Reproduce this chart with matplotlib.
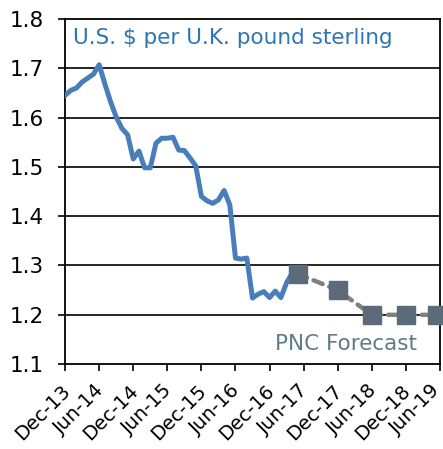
import matplotlib
matplotlib.use('Agg')
import matplotlib.pyplot as plt
import matplotlib.transforms as mtransforms

# monthly history, month index 0 = Dec-13 tick
hist_month = list(range(42))
hist_rate = [1.645, 1.655, 1.660, 1.672, 1.680, 1.688, 1.707, 1.668, 1.632, 1.601,
             1.578, 1.565, 1.516, 1.532, 1.498, 1.498, 1.548, 1.558, 1.558, 1.560,
             1.534, 1.533, 1.518, 1.502, 1.440, 1.431, 1.426, 1.433, 1.452, 1.423,
             1.315, 1.313, 1.315, 1.234, 1.242, 1.247, 1.235, 1.248, 1.235, 1.265,
             1.285, 1.283]

# PNC forecast points
fc_month = [41, 48, 54, 60, 65.5]
fc_rate = [1.283, 1.250, 1.200, 1.200, 1.200]

tick_pos = list(range(0, 67, 6))
tick_labels = ['Dec-13', 'Jun-14', 'Dec-14', 'Jun-15', 'Dec-15', 'Jun-16',
               'Dec-16', 'Jun-17', 'Dec-17', 'Jun-18', 'Dec-18', 'Jun-19']

plt.rcParams['font.family'] = 'DejaVu Sans'

fig = plt.figure(figsize=(4.43, 4.49), dpi=100)
ax = fig.add_axes([0.147, 0.189, 0.846, 0.769])

for v in [1.2, 1.3, 1.4, 1.5, 1.6, 1.7]:
    ax.axhline(v, color='black', lw=1.2, zorder=1)

ax.plot(hist_month, hist_rate, color='#4a7ebb', lw=3.6, zorder=3, solid_joinstyle='round')
ax.plot(fc_month, fc_rate, color='#808080', lw=3.2, ls=(0, (2.2, 1.6)),
        dash_capstyle='round', marker='s', markersize=12.5,
        markerfacecolor='#5b6b79', markeredgecolor='#5b6b79', zorder=4, clip_on=False)

ax.set_xlim(0, 66)
ax.set_ylim(1.1, 1.8)
ax.set_yticks([1.1, 1.2, 1.3, 1.4, 1.5, 1.6, 1.7, 1.8])
ax.set_yticklabels(['1.1', '1.2', '1.3', '1.4', '1.5', '1.6', '1.7', '1.8'], fontsize=15.5)
ax.set_xticks(tick_pos)
ax.set_xticklabels(tick_labels, rotation=45, ha='right', va='center',
                   rotation_mode='anchor', fontsize=14)
ax.tick_params(axis='both', direction='out', length=5, width=1.2, color='black')
ax.tick_params(axis='y', pad=10)
ax.tick_params(axis='x', pad=12)

# nudge the rotated date labels a little to the right (last one stays inside the figure)
labels = ax.get_xticklabels()
for i, lbl in enumerate(labels):
    dx = 2 if i < len(labels) - 1 else -3
    shift = mtransforms.ScaledTranslation(dx / 100, 0, fig.dpi_scale_trans)
    lbl.set_transform(lbl.get_transform() + shift)

for s in ax.spines.values():
    s.set_linewidth(1.3)
    s.set_color('black')

ax.text(0.022, 0.927, 'U.S. $ per U.K. pound sterling', transform=ax.transAxes,
        color='#2e75b6', fontsize=15.5, ha='left', va='baseline')
ax.text(0.939, 0.041, 'PNC Forecast', transform=ax.transAxes,
        color='#5f7a8c', fontsize=15.5, ha='right', va='baseline')

fig.savefig('out.png', dpi=100)
